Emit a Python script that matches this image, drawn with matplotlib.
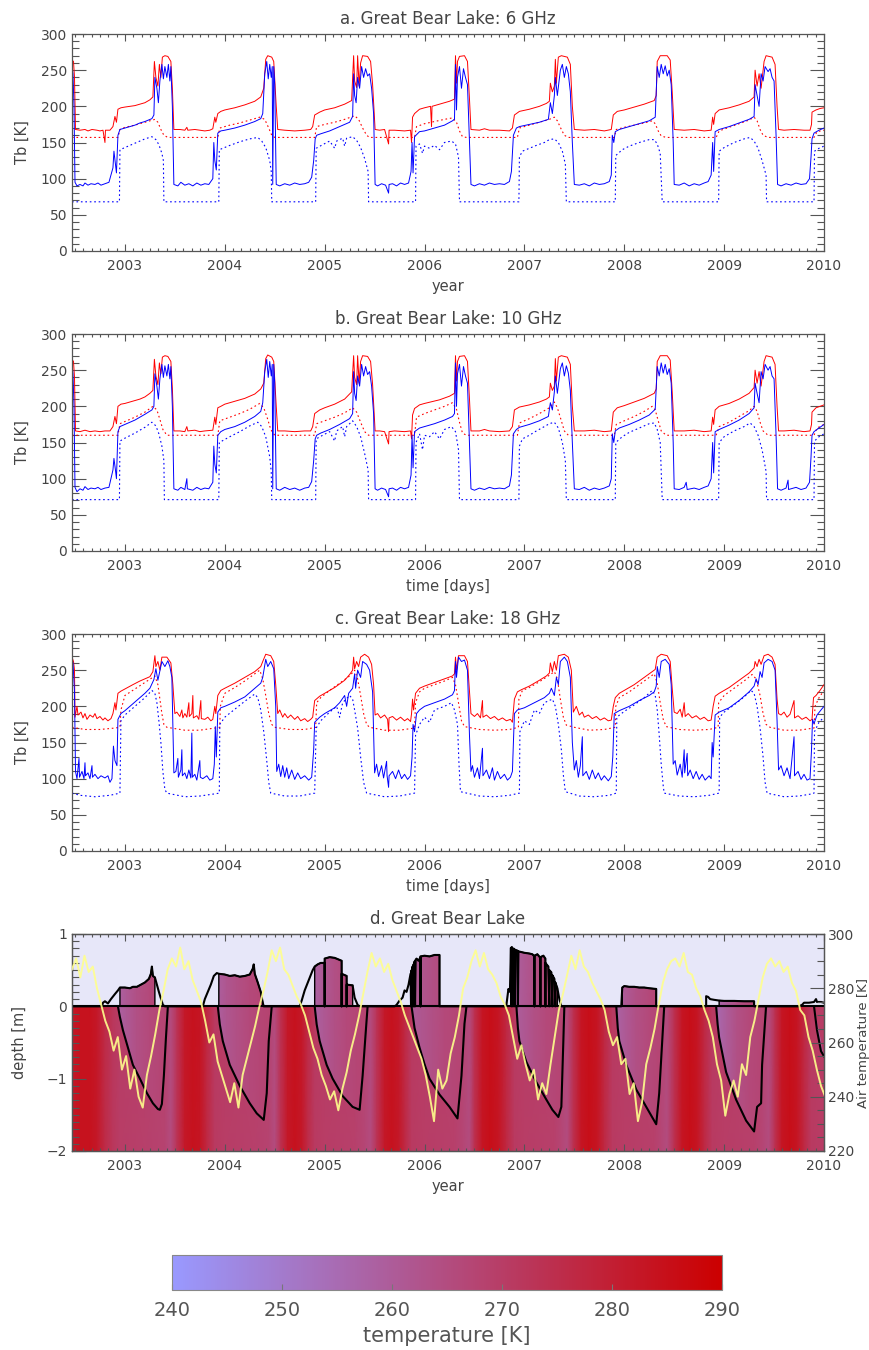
import numpy as np
import matplotlib
matplotlib.use("Agg")
import matplotlib.pyplot as plt
import matplotlib.cm as cm
from matplotlib.colors import LinearSegmentedColormap, Normalize
from matplotlib.path import Path
from matplotlib.patches import PathPatch
from matplotlib.ticker import MultipleLocator, FormatStrFormatter

plt.rcParams['font.family'] = ['DejaVu Sans']

# ------------------------------- 6 GHz (a) -------------------------------- #
a_v = [(2002.47, 264), (2002.485, 262), (2002.495, 240), (2002.505, 168), (2002.55, 167), (2002.6, 168), (2002.63, 166),
       (2002.67, 168), (2002.72, 167), (2002.75, 166), (2002.78, 167), (2002.8, 150), (2002.805, 167), (2002.85, 167),
       (2002.88, 172), (2002.9, 186), (2002.915, 178), (2002.93, 196), (2002.96, 198), (2003.0, 199), (2003.05, 200),
       (2003.1, 201), (2003.15, 203), (2003.2, 205), (2003.25, 209), (2003.28, 213), (2003.295, 262), (2003.31, 240),
       (2003.33, 228), (2003.345, 258), (2003.36, 240), (2003.375, 268), (2003.4, 270), (2003.43, 269), (2003.46, 262),
       (2003.475, 225), (2003.49, 168),
       (2003.55, 168), (2003.6, 167), (2003.62, 171), (2003.63, 167), (2003.7, 168), (2003.75, 167), (2003.8, 166),
       (2003.85, 167), (2003.88, 169), (2003.9, 185), (2003.91, 178), (2003.93, 190), (2003.96, 193), (2004.0, 195),
       (2004.1, 198), (2004.2, 202), (2004.3, 207), (2004.36, 213), (2004.39, 225), (2004.41, 265), (2004.43, 270),
       (2004.47, 268), (2004.49, 262), (2004.515, 200), (2004.53, 168),
       (2004.6, 167), (2004.7, 166), (2004.8, 167), (2004.86, 168), (2004.88, 172), (2004.9, 188), (2004.95, 192),
       (2005.0, 195), (2005.1, 198), (2005.2, 203), (2005.27, 208), (2005.29, 270), (2005.3, 235), (2005.32, 226),
       (2005.33, 270), (2005.345, 228), (2005.36, 260), (2005.38, 270), (2005.43, 269), (2005.46, 262), (2005.48, 230),
       (2005.505, 168),
       (2005.55, 167), (2005.6, 168), (2005.64, 148), (2005.645, 167), (2005.7, 167), (2005.8, 166), (2005.86, 167),
       (2005.87, 150), (2005.88, 185), (2005.9, 190), (2005.95, 196), (2006.0, 198), (2006.06, 200), (2006.07, 172),
       (2006.075, 200), (2006.15, 203), (2006.25, 207), (2006.3, 210), (2006.31, 270), (2006.32, 232), (2006.33, 262),
       (2006.35, 269), (2006.4, 270), (2006.43, 262), (2006.45, 210), (2006.465, 168),
       (2006.55, 167), (2006.6, 169), (2006.65, 167), (2006.75, 167), (2006.85, 166), (2006.88, 170), (2006.9, 188),
       (2006.95, 193), (2007.05, 196), (2007.15, 200), (2007.22, 204), (2007.25, 207), (2007.26, 232), (2007.28, 220),
       (2007.3, 228), (2007.31, 265), (2007.32, 232), (2007.34, 268), (2007.37, 270), (2007.43, 268), (2007.46, 258),
       (2007.48, 200), (2007.5, 168),
       (2007.6, 167), (2007.7, 168), (2007.8, 166), (2007.87, 168), (2007.89, 188), (2007.93, 193), (2008.0, 195),
       (2008.1, 199), (2008.2, 203), (2008.3, 208), (2008.32, 215), (2008.33, 262), (2008.36, 270), (2008.43, 270),
       (2008.46, 264), (2008.48, 220), (2008.5, 168),
       (2008.6, 167), (2008.7, 168), (2008.8, 166), (2008.87, 167), (2008.885, 185), (2008.895, 175), (2008.91, 190),
       (2008.95, 195), (2009.05, 198), (2009.15, 202), (2009.25, 207), (2009.3, 213), (2009.31, 250), (2009.33, 228),
       (2009.35, 245), (2009.37, 225), (2009.4, 262), (2009.42, 270), (2009.48, 268), (2009.51, 258), (2009.53, 200),
       (2009.545, 168),
       (2009.6, 167), (2009.7, 168), (2009.8, 167), (2009.86, 167), (2009.875, 175), (2009.88, 192), (2009.92, 195),
       (2009.96, 197), (2010.0, 198)]

a_h = [(2002.47, 255), (2002.48, 245), (2002.49, 200), (2002.5, 95), (2002.52, 90), (2002.55, 92), (2002.58, 90),
       (2002.6, 94), (2002.63, 91), (2002.66, 93), (2002.7, 92), (2002.73, 94), (2002.76, 91), (2002.8, 93),
       (2002.84, 95), (2002.86, 105), (2002.88, 115), (2002.89, 138), (2002.905, 120), (2002.915, 108), (2002.93, 160),
       (2002.95, 168), (2003.0, 170), (2003.05, 172), (2003.1, 174), (2003.15, 177), (2003.2, 179), (2003.27, 183),
       (2003.29, 188), (2003.3, 240), (2003.32, 225), (2003.335, 205), (2003.35, 235), (2003.37, 258), (2003.385, 238),
       (2003.4, 255), (2003.42, 240), (2003.435, 258), (2003.45, 235), (2003.46, 255), (2003.475, 200), (2003.49, 92),
       (2003.53, 90), (2003.56, 95), (2003.6, 91), (2003.64, 93), (2003.68, 90), (2003.72, 94), (2003.76, 91),
       (2003.8, 93), (2003.84, 92), (2003.88, 100), (2003.89, 150), (2003.9, 125), (2003.915, 112), (2003.93, 163),
       (2003.96, 166), (2004.0, 167), (2004.1, 170), (2004.2, 174), (2004.3, 179), (2004.36, 183), (2004.38, 190),
       (2004.4, 245), (2004.42, 262), (2004.435, 238), (2004.45, 258), (2004.465, 240), (2004.475, 255), (2004.48, 92),
       (2004.49, 255), (2004.5, 230), (2004.515, 92),
       (2004.55, 90), (2004.6, 93), (2004.65, 91), (2004.7, 94), (2004.75, 92), (2004.8, 93), (2004.84, 95),
       (2004.87, 102), (2004.89, 125), (2004.905, 155), (2004.92, 160), (2004.96, 162), (2005.05, 166), (2005.15, 172),
       (2005.25, 178), (2005.28, 186), (2005.29, 245), (2005.3, 215), (2005.315, 205), (2005.33, 240), (2005.35, 225),
       (2005.37, 255), (2005.39, 240), (2005.41, 252), (2005.43, 242), (2005.45, 245), (2005.47, 225), (2005.49, 190),
       (2005.505, 92),
       (2005.53, 90), (2005.57, 93), (2005.61, 91), (2005.64, 80), (2005.645, 92), (2005.68, 93), (2005.72, 90),
       (2005.76, 94), (2005.8, 92), (2005.84, 94), (2005.865, 110), (2005.875, 150), (2005.885, 108), (2005.9, 158),
       (2005.95, 165), (2006.0, 166), (2006.1, 170), (2006.2, 174), (2006.28, 180), (2006.3, 182), (2006.31, 258),
       (2006.32, 195), (2006.33, 240), (2006.35, 255), (2006.37, 225), (2006.39, 252), (2006.41, 240), (2006.43, 230),
       (2006.45, 150), (2006.465, 92),
       (2006.5, 90), (2006.55, 93), (2006.6, 91), (2006.65, 94), (2006.7, 92), (2006.75, 93), (2006.8, 92),
       (2006.85, 96), (2006.87, 110), (2006.89, 160), (2006.92, 170), (2006.95, 172), (2007.05, 175), (2007.15, 178),
       (2007.24, 182), (2007.26, 205), (2007.28, 190), (2007.3, 215), (2007.31, 240), (2007.33, 215), (2007.36, 250),
       (2007.38, 258), (2007.4, 240), (2007.42, 255), (2007.44, 245), (2007.46, 220), (2007.48, 150), (2007.5, 92),
       (2007.55, 91), (2007.6, 93), (2007.65, 90), (2007.7, 94), (2007.75, 92), (2007.8, 93), (2007.85, 96),
       (2007.87, 105), (2007.88, 160), (2007.895, 150), (2007.91, 165), (2007.95, 168), (2008.05, 172), (2008.15, 176),
       (2008.25, 180), (2008.31, 185), (2008.33, 255), (2008.35, 240), (2008.37, 258), (2008.39, 245), (2008.41, 256),
       (2008.43, 242), (2008.45, 250), (2008.47, 230), (2008.49, 150), (2008.5, 92),
       (2008.55, 91), (2008.6, 94), (2008.65, 90), (2008.7, 93), (2008.75, 91), (2008.8, 94), (2008.84, 96),
       (2008.87, 105), (2008.885, 150), (2008.895, 110), (2008.91, 165), (2008.95, 168), (2009.05, 172), (2009.15, 177),
       (2009.25, 182), (2009.3, 186), (2009.31, 230), (2009.33, 215), (2009.35, 200), (2009.37, 245), (2009.39, 235),
       (2009.41, 255), (2009.44, 248), (2009.46, 252), (2009.48, 240), (2009.5, 235), (2009.52, 160), (2009.535, 92),
       (2009.57, 90), (2009.62, 93), (2009.67, 91), (2009.72, 94), (2009.77, 92), (2009.82, 93), (2009.855, 100),
       (2009.87, 130), (2009.88, 155), (2009.9, 163), (2009.95, 167), (2010.0, 170)]

a_vm = [(2002.47, 157), (2002.93, 157), (2002.95, 168), (2003.0, 171), (2003.1, 174), (2003.2, 178), (2003.3, 182),
        (2003.33, 178), (2003.36, 168), (2003.39, 160), (2003.43, 157),
        (2003.93, 157), (2003.95, 170), (2004.05, 174), (2004.15, 177), (2004.25, 181), (2004.35, 185), (2004.4, 182),
        (2004.44, 170), (2004.47, 160), (2004.5, 157),
        (2004.9, 157), (2004.92, 172), (2005.0, 175), (2005.1, 178), (2005.2, 182), (2005.3, 187), (2005.34, 182),
        (2005.38, 170), (2005.42, 160), (2005.45, 157),
        (2005.9, 157), (2005.92, 172), (2006.0, 176), (2006.1, 179), (2006.2, 182), (2006.28, 184), (2006.32, 178),
        (2006.35, 166), (2006.38, 158), (2006.42, 157),
        (2006.93, 157), (2006.95, 170), (2007.05, 174), (2007.15, 178), (2007.25, 182), (2007.3, 185), (2007.33, 180),
        (2007.37, 168), (2007.4, 160), (2007.44, 157),
        (2007.9, 157), (2007.92, 168), (2008.0, 171), (2008.1, 174), (2008.2, 177), (2008.28, 180), (2008.31, 176),
        (2008.34, 166), (2008.37, 159), (2008.42, 157),
        (2008.92, 157), (2008.95, 166), (2009.05, 171), (2009.15, 176), (2009.25, 181), (2009.3, 185), (2009.33, 180),
        (2009.36, 168), (2009.39, 160), (2009.44, 157),
        (2009.9, 157), (2009.93, 165), (2010.0, 167)]

a_hm = [(2002.47, 68), (2002.945, 68), (2002.95, 140), (2003.0, 143), (2003.1, 149), (2003.2, 155), (2003.27, 158),
        (2003.31, 154), (2003.34, 147), (2003.37, 135), (2003.385, 125), (2003.39, 68),
        (2003.94, 68), (2003.945, 140), (2004.05, 146), (2004.15, 151), (2004.25, 155), (2004.33, 157), (2004.37, 152),
        (2004.41, 143), (2004.45, 125), (2004.465, 110), (2004.47, 68),
        (2004.91, 68), (2004.915, 142), (2004.98, 147), (2005.05, 152), (2005.1, 142), (2005.12, 152), (2005.18, 156),
        (2005.2, 145), (2005.22, 156), (2005.28, 158), (2005.32, 153), (2005.36, 143), (2005.4, 128), (2005.435, 110),
        (2005.44, 68),
        (2005.91, 68), (2005.915, 145), (2005.95, 148), (2005.98, 135), (2006.0, 145), (2006.05, 142), (2006.1, 146),
        (2006.15, 140), (2006.2, 150), (2006.27, 152), (2006.31, 148), (2006.34, 130), (2006.35, 68),
        (2006.945, 68), (2006.95, 130), (2006.98, 138), (2007.05, 142), (2007.12, 146), (2007.2, 150), (2007.25, 154),
        (2007.3, 155), (2007.34, 150), (2007.38, 138), (2007.41, 120), (2007.42, 68),
        (2007.91, 68), (2007.915, 132), (2007.98, 140), (2008.05, 145), (2008.15, 150), (2008.25, 154), (2008.3, 154),
        (2008.33, 148), (2008.36, 135), (2008.38, 68),
        (2008.945, 68), (2008.95, 138), (2009.0, 143), (2009.1, 150), (2009.2, 155), (2009.26, 157), (2009.3, 152),
        (2009.34, 142), (2009.38, 125), (2009.42, 105), (2009.425, 68),
        (2009.9, 68), (2009.905, 138), (2009.95, 142), (2010.0, 145)]

# ------------------------------- 10 GHz (b) ------------------------------- #
b_v = [(2002.47, 265), (2002.485, 262), (2002.495, 240), (2002.505, 166), (2002.55, 165), (2002.6, 167), (2002.65, 165),
       (2002.7, 166), (2002.75, 165), (2002.8, 166), (2002.85, 166), (2002.88, 172), (2002.9, 186), (2002.915, 176),
       (2002.93, 200), (2002.96, 203), (2003.0, 204), (2003.05, 206), (2003.1, 208), (2003.15, 210), (2003.2, 213),
       (2003.25, 218), (2003.28, 222), (2003.295, 265), (2003.31, 242), (2003.33, 230), (2003.345, 260), (2003.36, 245),
       (2003.375, 268), (2003.4, 270), (2003.43, 269), (2003.46, 262), (2003.475, 225), (2003.49, 166),
       (2003.55, 166), (2003.6, 165), (2003.62, 172), (2003.63, 166), (2003.7, 167), (2003.75, 165), (2003.8, 166),
       (2003.88, 167), (2003.9, 185), (2003.91, 175), (2003.93, 198), (2003.96, 200), (2004.0, 203), (2004.1, 207),
       (2004.2, 211), (2004.3, 217), (2004.36, 224), (2004.39, 232), (2004.41, 266), (2004.43, 271), (2004.47, 268),
       (2004.49, 262), (2004.515, 200), (2004.53, 166),
       (2004.6, 166), (2004.7, 165), (2004.8, 166), (2004.86, 166), (2004.88, 172), (2004.9, 190), (2004.95, 195),
       (2005.0, 198), (2005.1, 203), (2005.2, 210), (2005.27, 220), (2005.29, 270), (2005.3, 240), (2005.32, 230),
       (2005.33, 270), (2005.345, 232), (2005.36, 262), (2005.38, 270), (2005.43, 269), (2005.46, 262), (2005.48, 230),
       (2005.505, 166),
       (2005.55, 166), (2005.6, 165), (2005.64, 148), (2005.645, 165), (2005.7, 166), (2005.8, 165), (2005.86, 166),
       (2005.87, 155), (2005.88, 188), (2005.9, 197), (2005.95, 202), (2006.0, 204), (2006.06, 206), (2006.15, 209),
       (2006.25, 214), (2006.3, 218), (2006.31, 270), (2006.32, 235), (2006.33, 262), (2006.35, 269), (2006.4, 270),
       (2006.43, 262), (2006.45, 210), (2006.465, 166),
       (2006.55, 166), (2006.6, 168), (2006.65, 166), (2006.75, 165), (2006.85, 166), (2006.88, 172), (2006.9, 195),
       (2006.95, 199), (2007.05, 202), (2007.15, 206), (2007.22, 210), (2007.25, 213), (2007.26, 232), (2007.28, 222),
       (2007.3, 228), (2007.31, 266), (2007.32, 235), (2007.34, 268), (2007.37, 270), (2007.43, 268), (2007.46, 258),
       (2007.48, 200), (2007.5, 166),
       (2007.6, 166), (2007.7, 167), (2007.8, 165), (2007.87, 166), (2007.89, 192), (2007.93, 198), (2008.0, 201),
       (2008.1, 206), (2008.2, 211), (2008.3, 218), (2008.32, 224), (2008.33, 262), (2008.36, 270), (2008.43, 270),
       (2008.46, 264), (2008.48, 220), (2008.5, 166),
       (2008.6, 166), (2008.7, 167), (2008.8, 165), (2008.87, 166), (2008.885, 185), (2008.895, 175), (2008.91, 195),
       (2008.95, 200), (2009.05, 204), (2009.15, 210), (2009.25, 218), (2009.3, 226), (2009.31, 250), (2009.33, 232),
       (2009.35, 248), (2009.37, 228), (2009.4, 262), (2009.42, 270), (2009.48, 268), (2009.51, 258), (2009.53, 200),
       (2009.545, 166),
       (2009.6, 166), (2009.7, 167), (2009.8, 165), (2009.86, 166), (2009.875, 175), (2009.88, 192), (2009.92, 198),
       (2009.96, 200), (2010.0, 202)]

b_h = [(2002.47, 258), (2002.48, 245), (2002.49, 200), (2002.5, 88), (2002.52, 82), (2002.55, 86), (2002.58, 84),
       (2002.6, 89), (2002.63, 85), (2002.66, 87), (2002.7, 86), (2002.73, 88), (2002.76, 85), (2002.8, 87),
       (2002.84, 88), (2002.86, 100), (2002.88, 112), (2002.89, 128), (2002.905, 112), (2002.915, 100), (2002.93, 165),
       (2002.95, 172), (2003.0, 175), (2003.05, 178), (2003.1, 181), (2003.15, 185), (2003.2, 189), (2003.27, 195),
       (2003.29, 200), (2003.3, 245), (2003.32, 228), (2003.335, 210), (2003.35, 238), (2003.37, 258), (2003.385, 240),
       (2003.4, 256), (2003.42, 242), (2003.435, 258), (2003.45, 238), (2003.46, 255), (2003.475, 200), (2003.49, 86),
       (2003.53, 84), (2003.56, 88), (2003.6, 85), (2003.62, 100), (2003.625, 86), (2003.68, 84), (2003.72, 88),
       (2003.76, 85), (2003.8, 87), (2003.84, 86), (2003.88, 95), (2003.89, 145), (2003.9, 120), (2003.915, 108),
       (2003.93, 160), (2003.96, 165), (2004.0, 168), (2004.1, 172), (2004.2, 178), (2004.3, 186), (2004.36, 193),
       (2004.38, 205), (2004.4, 248), (2004.42, 265), (2004.435, 240), (2004.45, 262), (2004.465, 242), (2004.475, 258),
       (2004.48, 86), (2004.49, 258), (2004.5, 232), (2004.515, 86),
       (2004.55, 84), (2004.6, 88), (2004.65, 85), (2004.7, 87), (2004.75, 84), (2004.8, 87), (2004.84, 88),
       (2004.87, 96), (2004.89, 125), (2004.905, 155), (2004.92, 160), (2004.96, 163), (2005.05, 168), (2005.15, 175),
       (2005.25, 183), (2005.28, 190), (2005.29, 248), (2005.3, 218), (2005.315, 208), (2005.33, 242), (2005.35, 228),
       (2005.37, 258), (2005.39, 242), (2005.41, 255), (2005.43, 244), (2005.45, 248), (2005.47, 228), (2005.49, 190),
       (2005.505, 86),
       (2005.53, 84), (2005.57, 87), (2005.61, 85), (2005.64, 75), (2005.645, 86), (2005.68, 87), (2005.72, 84),
       (2005.76, 88), (2005.8, 86), (2005.84, 88), (2005.865, 105), (2005.875, 160), (2005.885, 115), (2005.9, 165),
       (2005.95, 170), (2006.0, 172), (2006.1, 176), (2006.2, 181), (2006.28, 186), (2006.3, 190), (2006.31, 260),
       (2006.32, 200), (2006.33, 245), (2006.35, 258), (2006.37, 228), (2006.39, 255), (2006.41, 242), (2006.43, 232),
       (2006.45, 150), (2006.465, 86),
       (2006.5, 84), (2006.55, 87), (2006.6, 85), (2006.65, 88), (2006.7, 86), (2006.75, 87), (2006.8, 86),
       (2006.85, 90), (2006.87, 105), (2006.89, 162), (2006.92, 168), (2006.95, 171), (2007.05, 175), (2007.15, 180),
       (2007.24, 186), (2007.26, 205), (2007.28, 195), (2007.3, 220), (2007.31, 242), (2007.33, 218), (2007.36, 252),
       (2007.38, 260), (2007.4, 242), (2007.42, 256), (2007.44, 246), (2007.46, 222), (2007.48, 150), (2007.5, 86),
       (2007.55, 85), (2007.6, 88), (2007.65, 84), (2007.7, 87), (2007.75, 85), (2007.8, 87), (2007.85, 90),
       (2007.87, 100), (2007.88, 162), (2007.895, 150), (2007.91, 166), (2007.95, 170), (2008.05, 175), (2008.15, 181),
       (2008.25, 188), (2008.31, 196), (2008.33, 255), (2008.35, 242), (2008.37, 260), (2008.39, 246), (2008.41, 258),
       (2008.43, 244), (2008.45, 252), (2008.47, 232), (2008.49, 150), (2008.5, 86),
       (2008.55, 85), (2008.6, 88), (2008.62, 95), (2008.63, 85), (2008.7, 87), (2008.75, 85), (2008.8, 88),
       (2008.84, 90), (2008.87, 100), (2008.885, 150), (2008.895, 108), (2008.91, 165), (2008.95, 168), (2009.05, 174),
       (2009.15, 181), (2009.25, 190), (2009.3, 198), (2009.31, 232), (2009.33, 218), (2009.35, 205), (2009.37, 248),
       (2009.39, 238), (2009.41, 258), (2009.44, 250), (2009.46, 255), (2009.48, 242), (2009.5, 238), (2009.52, 160),
       (2009.535, 86),
       (2009.57, 84), (2009.62, 87), (2009.64, 98), (2009.645, 85), (2009.72, 88), (2009.77, 85), (2009.82, 87),
       (2009.855, 95), (2009.87, 130), (2009.88, 160), (2009.9, 165), (2009.95, 170), (2010.0, 175)]

b_vm = [(2002.47, 160), (2002.93, 160), (2002.95, 176), (2003.0, 179), (2003.1, 185), (2003.2, 192), (2003.28, 200),
        (2003.32, 195), (2003.35, 182), (2003.38, 168), (2003.42, 160),
        (2003.93, 160), (2003.95, 180), (2004.05, 185), (2004.15, 190), (2004.25, 196), (2004.35, 204), (2004.39, 198),
        (2004.43, 182), (2004.46, 168), (2004.5, 160),
        (2004.9, 160), (2004.92, 176), (2005.0, 180), (2005.1, 185), (2005.2, 191), (2005.28, 198), (2005.32, 192),
        (2005.36, 178), (2005.4, 165), (2005.44, 160),
        (2005.9, 160), (2005.92, 185), (2006.0, 190), (2006.1, 195), (2006.2, 200), (2006.28, 205), (2006.32, 196),
        (2006.35, 178), (2006.38, 163), (2006.42, 160),
        (2006.93, 160), (2006.95, 177), (2007.05, 183), (2007.15, 190), (2007.25, 198), (2007.3, 206), (2007.33, 198),
        (2007.37, 180), (2007.4, 166), (2007.44, 160),
        (2007.9, 160), (2007.92, 175), (2008.0, 180), (2008.1, 186), (2008.2, 193), (2008.28, 200), (2008.31, 195),
        (2008.34, 180), (2008.37, 166), (2008.42, 160),
        (2008.92, 160), (2008.95, 172), (2009.05, 178), (2009.15, 186), (2009.25, 194), (2009.3, 200), (2009.33, 193),
        (2009.36, 178), (2009.39, 166), (2009.44, 160),
        (2009.9, 160), (2009.93, 170), (2010.0, 175)]

b_hm = [(2002.47, 71), (2002.945, 71), (2002.95, 152), (2003.0, 156), (2003.1, 163), (2003.2, 171), (2003.27, 178),
        (2003.31, 173), (2003.34, 162), (2003.37, 145), (2003.39, 125), (2003.395, 71),
        (2003.94, 71), (2003.945, 150), (2004.05, 158), (2004.15, 165), (2004.25, 173), (2004.33, 178), (2004.37, 172),
        (2004.41, 158), (2004.45, 130), (2004.465, 110), (2004.47, 71),
        (2004.91, 71), (2004.915, 155), (2004.98, 160), (2005.05, 165), (2005.1, 152), (2005.12, 166), (2005.18, 172),
        (2005.2, 158), (2005.22, 172), (2005.28, 180), (2005.32, 172), (2005.36, 158), (2005.4, 135), (2005.435, 112),
        (2005.44, 71),
        (2005.91, 71), (2005.915, 150), (2005.95, 162), (2005.98, 140), (2006.0, 160), (2006.05, 158), (2006.1, 165),
        (2006.15, 155), (2006.2, 168), (2006.27, 172), (2006.31, 165), (2006.34, 140), (2006.35, 71),
        (2006.945, 71), (2006.95, 145), (2006.98, 155), (2007.05, 160), (2007.12, 166), (2007.2, 172), (2007.25, 176),
        (2007.3, 178), (2007.34, 170), (2007.38, 150), (2007.41, 125), (2007.42, 71),
        (2007.91, 71), (2007.915, 150), (2007.98, 158), (2008.05, 164), (2008.15, 170), (2008.25, 176), (2008.3, 177),
        (2008.33, 168), (2008.36, 150), (2008.38, 71),
        (2008.945, 71), (2008.95, 150), (2009.0, 158), (2009.1, 166), (2009.2, 172), (2009.26, 177), (2009.3, 172),
        (2009.34, 160), (2009.38, 140), (2009.42, 110), (2009.425, 71),
        (2009.9, 71), (2009.905, 152), (2009.95, 158), (2010.0, 162)]

# ------------------------------- 18 GHz (c) ------------------------------- #
c_v = [(2002.47, 268), (2002.485, 262), (2002.495, 250), (2002.5, 185), (2002.52, 200), (2002.53, 188), (2002.56, 192),
       (2002.58, 184), (2002.6, 190), (2002.62, 182), (2002.65, 188), (2002.68, 185), (2002.7, 190), (2002.72, 183),
       (2002.75, 186), (2002.78, 181), (2002.8, 184), (2002.83, 180), (2002.86, 183), (2002.88, 190), (2002.9, 205),
       (2002.91, 195), (2002.93, 218), (2002.96, 221), (2003.0, 224), (2003.08, 230), (2003.15, 235), (2003.25, 241),
       (2003.28, 248), (2003.3, 270), (2003.31, 255), (2003.33, 262), (2003.35, 250), (2003.37, 268), (2003.42, 268),
       (2003.46, 260), (2003.48, 230), (2003.5, 190),
       (2003.52, 192), (2003.55, 186), (2003.57, 195), (2003.58, 184), (2003.6, 190), (2003.62, 185), (2003.64, 205),
       (2003.645, 186), (2003.67, 190), (2003.68, 215), (2003.685, 184), (2003.72, 187), (2003.74, 182), (2003.76, 208),
       (2003.765, 183), (2003.8, 182), (2003.83, 185), (2003.86, 180), (2003.88, 182), (2003.9, 200), (2003.91, 190),
       (2003.93, 215), (2003.96, 222), (2004.0, 225), (2004.1, 232), (2004.2, 240), (2004.3, 248), (2004.36, 255),
       (2004.38, 262), (2004.41, 272), (2004.46, 270), (2004.49, 262), (2004.51, 230), (2004.53, 190),
       (2004.55, 195), (2004.58, 185), (2004.6, 190), (2004.63, 184), (2004.66, 188), (2004.7, 182), (2004.73, 186),
       (2004.76, 180), (2004.8, 183), (2004.83, 179), (2004.86, 182), (2004.88, 185), (2004.9, 208), (2004.95, 214),
       (2005.0, 218), (2005.1, 226), (2005.2, 236), (2005.25, 244), (2005.28, 250), (2005.29, 268), (2005.3, 252),
       (2005.32, 262), (2005.34, 255), (2005.36, 268), (2005.4, 272), (2005.44, 268), (2005.47, 258), (2005.49, 230),
       (2005.505, 188),
       (2005.53, 190), (2005.56, 184), (2005.6, 188), (2005.63, 182), (2005.64, 165), (2005.645, 184), (2005.68, 186),
       (2005.72, 181), (2005.76, 185), (2005.8, 180), (2005.83, 183), (2005.86, 179), (2005.87, 190), (2005.88, 210),
       (2005.89, 195), (2005.91, 218), (2005.95, 225), (2006.0, 228), (2006.1, 233), (2006.2, 238), (2006.28, 242),
       (2006.3, 245), (2006.31, 268), (2006.32, 250), (2006.34, 270), (2006.4, 270), (2006.43, 262), (2006.45, 220),
       (2006.465, 190),
       (2006.5, 186), (2006.53, 190), (2006.56, 184), (2006.58, 208), (2006.585, 185), (2006.62, 188), (2006.66, 183),
       (2006.7, 186), (2006.74, 181), (2006.78, 184), (2006.82, 180), (2006.86, 182), (2006.88, 178), (2006.9, 210),
       (2006.93, 220), (2006.97, 223), (2007.05, 228), (2007.15, 236), (2007.22, 242), (2007.25, 246), (2007.26, 260),
       (2007.28, 248), (2007.3, 262), (2007.32, 250), (2007.34, 270), (2007.4, 272), (2007.44, 268), (2007.47, 250),
       (2007.49, 192),
       (2007.52, 200), (2007.55, 188), (2007.58, 192), (2007.6, 185), (2007.64, 188), (2007.68, 183), (2007.72, 186),
       (2007.76, 181), (2007.8, 184), (2007.84, 180), (2007.87, 181), (2007.89, 200), (2007.91, 212), (2007.95, 218),
       (2008.0, 222), (2008.1, 230), (2008.2, 240), (2008.28, 248), (2008.31, 251), (2008.33, 268), (2008.37, 272),
       (2008.43, 270), (2008.46, 262), (2008.48, 225), (2008.5, 192),
       (2008.53, 190), (2008.56, 196), (2008.58, 185), (2008.6, 205), (2008.61, 186), (2008.64, 190), (2008.68, 184),
       (2008.72, 187), (2008.76, 182), (2008.8, 185), (2008.84, 180), (2008.87, 181), (2008.89, 200), (2008.91, 214),
       (2008.95, 218), (2009.05, 226), (2009.15, 236), (2009.25, 246), (2009.3, 253), (2009.31, 262), (2009.33, 255),
       (2009.35, 265), (2009.37, 258), (2009.4, 270), (2009.44, 272), (2009.48, 268), (2009.51, 258), (2009.53, 210),
       (2009.545, 190),
       (2009.57, 188), (2009.6, 192), (2009.63, 185), (2009.66, 189), (2009.7, 208), (2009.705, 184), (2009.74, 187),
       (2009.78, 182), (2009.82, 185), (2009.86, 180), (2009.88, 182), (2009.895, 212), (2009.92, 215), (2009.96, 222),
       (2010.0, 230)]

c_h = [(2002.47, 264), (2002.48, 260), (2002.495, 220), (2002.505, 110), (2002.52, 100), (2002.54, 128), (2002.545, 102),
       (2002.57, 110), (2002.59, 100), (2002.6, 122), (2002.605, 104), (2002.63, 108), (2002.65, 100), (2002.67, 118),
       (2002.675, 102), (2002.7, 106), (2002.73, 100), (2002.76, 104), (2002.8, 101), (2002.83, 104), (2002.85, 95),
       (2002.87, 100), (2002.885, 145), (2002.9, 125), (2002.92, 118), (2002.93, 182), (2002.96, 190), (2003.0, 194),
       (2003.05, 200), (2003.1, 206), (2003.15, 212), (2003.2, 218), (2003.25, 225), (2003.29, 237), (2003.31, 252),
       (2003.33, 236), (2003.37, 262), (2003.4, 255), (2003.43, 263), (2003.45, 255), (2003.47, 240), (2003.49, 108),
       (2003.51, 110), (2003.53, 128), (2003.535, 102), (2003.56, 112), (2003.57, 140), (2003.575, 104), (2003.6, 108),
       (2003.62, 100), (2003.64, 112), (2003.66, 101), (2003.67, 163), (2003.675, 102), (2003.7, 106), (2003.72, 98),
       (2003.75, 125), (2003.755, 102), (2003.78, 100), (2003.82, 104), (2003.85, 98), (2003.88, 100), (2003.895, 120),
       (2003.905, 172), (2003.915, 130), (2003.93, 192), (2003.96, 198), (2004.0, 200), (2004.1, 206), (2004.2, 213),
       (2004.3, 225), (2004.36, 232), (2004.38, 240), (2004.41, 265), (2004.43, 255), (2004.46, 262), (2004.49, 252),
       (2004.51, 200), (2004.52, 110),
       (2004.54, 120), (2004.56, 103), (2004.58, 118), (2004.6, 102), (2004.62, 115), (2004.64, 100), (2004.67, 112),
       (2004.7, 99), (2004.73, 108), (2004.76, 100), (2004.8, 104), (2004.84, 98), (2004.87, 102), (2004.89, 140),
       (2004.9, 178), (2004.95, 185), (2005.0, 190), (2005.1, 198), (2005.15, 205), (2005.2, 215), (2005.22, 200),
       (2005.24, 218), (2005.28, 225), (2005.3, 245), (2005.31, 225), (2005.33, 250), (2005.36, 240), (2005.38, 262),
       (2005.42, 258), (2005.45, 250), (2005.48, 220), (2005.5, 108),
       (2005.52, 120), (2005.54, 103), (2005.57, 118), (2005.59, 101), (2005.62, 124), (2005.625, 104), (2005.64, 88),
       (2005.645, 104), (2005.68, 110), (2005.71, 100), (2005.74, 112), (2005.77, 100), (2005.8, 106), (2005.83, 99),
       (2005.86, 104), (2005.875, 130), (2005.885, 175), (2005.9, 165), (2005.92, 190), (2005.95, 195), (2006.0, 200),
       (2006.1, 205), (2006.2, 210), (2006.28, 216), (2006.3, 222), (2006.31, 262), (2006.32, 240), (2006.34, 268),
       (2006.37, 262), (2006.4, 264), (2006.43, 250), (2006.45, 160), (2006.465, 110),
       (2006.48, 118), (2006.5, 102), (2006.53, 115), (2006.55, 100), (2006.58, 142), (2006.585, 104), (2006.62, 112),
       (2006.65, 100), (2006.68, 115), (2006.7, 98), (2006.73, 110), (2006.76, 100), (2006.8, 106), (2006.83, 98),
       (2006.86, 102), (2006.88, 110), (2006.9, 190), (2006.93, 195), (2007.0, 198), (2007.1, 205), (2007.2, 212),
       (2007.25, 218), (2007.27, 225), (2007.3, 215), (2007.32, 240), (2007.34, 230), (2007.36, 262), (2007.4, 268),
       (2007.43, 262), (2007.46, 240), (2007.48, 150), (2007.5, 112),
       (2007.52, 125), (2007.54, 102), (2007.56, 118), (2007.58, 158), (2007.585, 104), (2007.62, 110), (2007.65, 99),
       (2007.68, 112), (2007.71, 100), (2007.74, 108), (2007.77, 98), (2007.8, 104), (2007.84, 97), (2007.87, 103),
       (2007.885, 130), (2007.9, 190), (2007.95, 194), (2008.05, 200), (2008.15, 208), (2008.25, 215), (2008.3, 220),
       (2008.32, 228), (2008.33, 255), (2008.35, 240), (2008.37, 262), (2008.41, 265), (2008.45, 258), (2008.47, 230),
       (2008.49, 120),
       (2008.51, 125), (2008.53, 105), (2008.56, 120), (2008.58, 102), (2008.6, 140), (2008.605, 108), (2008.63, 135),
       (2008.635, 104), (2008.66, 112), (2008.69, 100), (2008.72, 110), (2008.75, 99), (2008.78, 106), (2008.81, 98),
       (2008.85, 104), (2008.87, 100), (2008.88, 150), (2008.89, 130), (2008.91, 188), (2008.95, 192), (2009.05, 198),
       (2009.15, 208), (2009.25, 220), (2009.3, 228), (2009.32, 238), (2009.34, 230), (2009.36, 248), (2009.38, 240),
       (2009.4, 260), (2009.44, 265), (2009.48, 262), (2009.51, 250), (2009.53, 180), (2009.545, 112),
       (2009.57, 118), (2009.6, 104), (2009.63, 115), (2009.66, 100), (2009.7, 158), (2009.705, 104), (2009.74, 110),
       (2009.77, 99), (2009.8, 106), (2009.83, 98), (2009.86, 100), (2009.875, 140), (2009.885, 182), (2009.9, 176),
       (2009.93, 188), (2009.97, 195), (2010.0, 200)]

c_vm = [(2002.47, 171), (2002.6, 168), (2002.75, 168), (2002.9, 170), (2002.95, 171), (2002.96, 195), (2003.0, 215),
        (2003.1, 224), (2003.2, 233), (2003.3, 242), (2003.33, 230), (2003.35, 210), (2003.37, 190), (2003.39, 175),
        (2003.42, 171), (2003.6, 167), (2003.75, 167), (2003.9, 170), (2003.95, 171),
        (2003.955, 200), (2004.0, 218), (2004.1, 226), (2004.2, 235), (2004.3, 245), (2004.35, 250), (2004.38, 238),
        (2004.41, 215), (2004.44, 190), (2004.47, 175), (2004.5, 171), (2004.65, 168), (2004.8, 168), (2004.91, 171),
        (2004.92, 205), (2004.96, 212), (2005.05, 222), (2005.15, 232), (2005.25, 242), (2005.3, 250), (2005.33, 238),
        (2005.36, 215), (2005.39, 190), (2005.42, 175), (2005.45, 171), (2005.6, 167), (2005.75, 167), (2005.9, 170),
        (2005.91, 205), (2005.95, 220), (2006.0, 225), (2006.1, 230), (2006.2, 235), (2006.28, 240), (2006.31, 230),
        (2006.34, 205), (2006.37, 180), (2006.4, 172), (2006.55, 168), (2006.7, 167), (2006.85, 168), (2006.94, 171),
        (2006.945, 210), (2006.98, 222), (2007.05, 226), (2007.15, 234), (2007.25, 243), (2007.3, 248), (2007.33, 238),
        (2007.36, 210), (2007.39, 185), (2007.42, 174), (2007.5, 171), (2007.65, 167), (2007.8, 168), (2007.91, 171),
        (2007.915, 200), (2007.95, 212), (2008.05, 220), (2008.15, 230), (2008.25, 240), (2008.3, 245), (2008.33, 232),
        (2008.36, 205), (2008.39, 182), (2008.42, 172), (2008.55, 168), (2008.7, 167), (2008.85, 168), (2008.94, 171),
        (2008.945, 205), (2009.0, 215), (2009.1, 225), (2009.2, 235), (2009.28, 244), (2009.32, 238), (2009.36, 215),
        (2009.39, 190), (2009.42, 175), (2009.46, 171), (2009.6, 167), (2009.75, 167), (2009.9, 170),
        (2009.91, 200), (2009.95, 212), (2010.0, 222)]

c_hm = [(2002.47, 80), (2002.55, 77), (2002.7, 75), (2002.85, 77), (2002.95, 80), (2002.96, 180), (2003.0, 188),
        (2003.1, 200), (2003.2, 212), (2003.27, 222), (2003.3, 218), (2003.32, 205), (2003.34, 180), (2003.36, 150),
        (2003.38, 110), (2003.4, 85), (2003.42, 80),
        (2003.6, 75), (2003.75, 76), (2003.9, 79), (2003.945, 80), (2003.95, 175), (2004.0, 185), (2004.1, 196),
        (2004.2, 207), (2004.3, 217), (2004.33, 212), (2004.36, 195), (2004.39, 165), (2004.42, 125), (2004.44, 95),
        (2004.46, 80),
        (2004.6, 76), (2004.75, 76), (2004.9, 80), (2004.915, 170), (2004.96, 180), (2005.05, 192), (2005.12, 200),
        (2005.15, 185), (2005.18, 205), (2005.25, 215), (2005.28, 210), (2005.3, 195), (2005.33, 170), (2005.36, 130),
        (2005.39, 95), (2005.42, 80),
        (2005.6, 75), (2005.75, 76), (2005.9, 80), (2005.91, 160), (2005.95, 175), (2006.0, 185), (2006.05, 178),
        (2006.1, 195), (2006.2, 200), (2006.27, 205), (2006.3, 195), (2006.33, 175), (2006.345, 120), (2006.36, 82),
        (2006.55, 76), (2006.7, 75), (2006.85, 77), (2006.95, 80), (2006.955, 165), (2007.0, 180), (2007.05, 175),
        (2007.1, 195), (2007.15, 190), (2007.2, 205), (2007.28, 210), (2007.31, 200), (2007.34, 175), (2007.37, 140),
        (2007.39, 105), (2007.41, 82),
        (2007.55, 76), (2007.7, 75), (2007.85, 77), (2007.92, 80), (2007.925, 185), (2008.0, 193), (2008.1, 202),
        (2008.2, 212), (2008.28, 222), (2008.31, 215), (2008.33, 195), (2008.35, 160), (2008.37, 120), (2008.39, 90),
        (2008.4, 80),
        (2008.55, 76), (2008.7, 75), (2008.85, 77), (2008.95, 80), (2008.955, 185), (2009.0, 192), (2009.1, 202),
        (2009.2, 213), (2009.27, 222), (2009.3, 218), (2009.33, 200), (2009.36, 170), (2009.39, 130), (2009.41, 95),
        (2009.43, 80),
        (2009.6, 75), (2009.75, 76), (2009.88, 79), (2009.9, 80), (2009.905, 165), (2009.95, 178), (2010.0, 185)]

# -------------------------- lake ice / snow (d) --------------------------- #
snow = [(2002.47, 0), (2002.77, 0), (2002.78, 0.05), (2002.8, 0.07), (2002.83, 0.04), (2002.86, 0.1), (2002.9, 0.17),
        (2002.93, 0.22), (2002.95, 0.26), (2003.0, 0.26), (2003.05, 0.25), (2003.08, 0.27), (2003.12, 0.27),
        (2003.16, 0.30), (2003.2, 0.33), (2003.24, 0.38), (2003.26, 0.45), (2003.27, 0.55), (2003.28, 0.42),
        (2003.3, 0.40), (2003.34, 0.2), (2003.38, 0.02), (2003.4, 0),
        (2003.78, 0), (2003.8, 0.1), (2003.83, 0.2), (2003.86, 0.3), (2003.89, 0.42), (2003.92, 0.46), (2003.94, 0.45),
        (2004.0, 0.44), (2004.05, 0.42), (2004.1, 0.43), (2004.15, 0.41), (2004.2, 0.42), (2004.25, 0.44),
        (2004.28, 0.52), (2004.29, 0.58), (2004.3, 0.45), (2004.33, 0.33), (2004.36, 0.2), (2004.38, 0.05), (2004.39, 0),
        (2004.75, 0), (2004.77, 0.08), (2004.8, 0.22), (2004.84, 0.36), (2004.88, 0.5), (2004.9, 0.55), (2004.93, 0.58),
        (2004.96, 0.6), (2005.0, 0.6), (2005.0, 0), (2005.0, 0.66), (2005.05, 0.68), (2005.1, 0.67), (2005.17, 0.63),
        (2005.17, 0), (2005.17, 0.45), (2005.22, 0.42), (2005.22, 0), (2005.22, 0.3), (2005.28, 0.29), (2005.3, 0.12),
        (2005.33, 0.02), (2005.35, 0),
        (2005.7, 0), (2005.72, 0.02), (2005.75, 0.08), (2005.78, 0.12), (2005.8, 0.22), (2005.82, 0.2), (2005.84, 0.3),
        (2005.86, 0.45), (2005.865, 0), (2005.87, 0.5), (2005.875, 0), (2005.88, 0.55), (2005.885, 0), (2005.89, 0.58),
        (2005.895, 0), (2005.9, 0.62), (2005.905, 0), (2005.91, 0.64), (2005.92, 0.66), (2005.94, 0.63),
        (2005.96, 0.68), (2005.96, 0), (2005.96, 0.69), (2006.0, 0.7), (2006.05, 0.69), (2006.1, 0.71),
        (2006.15, 0.71), (2006.15, 0),
        (2006.8, 0), (2006.82, 0.02), (2006.84, 0.24), (2006.855, 0.2), (2006.865, 0.81), (2006.87, 0), (2006.875, 0.82),
        (2006.885, 0), (2006.89, 0.8), (2006.9, 0.79), (2006.905, 0), (2006.91, 0.78), (2006.93, 0.77), (2006.935, 0),
        (2006.94, 0.76), (2006.97, 0.75), (2007.0, 0.74), (2007.05, 0.73), (2007.08, 0.72), (2007.1, 0.69),
        (2007.1, 0), (2007.1, 0.7), (2007.13, 0.72), (2007.16, 0.67), (2007.16, 0), (2007.16, 0.68), (2007.19, 0.7),
        (2007.21, 0.66), (2007.21, 0), (2007.21, 0.6), (2007.24, 0.55), (2007.25, 0), (2007.25, 0.5), (2007.27, 0.47),
        (2007.28, 0), (2007.28, 0.43), (2007.3, 0.38), (2007.31, 0), (2007.31, 0.33), (2007.33, 0.25), (2007.35, 0.1),
        (2007.37, 0),
        (2007.97, 0), (2007.98, 0.26), (2008.0, 0.28), (2008.05, 0.27), (2008.1, 0.27), (2008.15, 0.26), (2008.2, 0.26),
        (2008.25, 0.25), (2008.32, 0.24), (2008.32, 0),
        (2008.82, 0), (2008.82, 0.14), (2008.84, 0.13), (2008.86, 0.1), (2008.9, 0.09), (2008.95, 0.08),
        (2009.0, 0.075), (2009.1, 0.075), (2009.2, 0.07), (2009.3, 0.07), (2009.3, 0),
        (2009.75, 0), (2009.78, 0.02), (2009.8, 0.05), (2009.85, 0.05), (2009.9, 0.06), (2009.92, 0.1),
        (2009.93, 0.06), (2009.97, 0.06), (2010.0, 0.05)]

snow_fill = [(2002.95, 2003.3), (2003.94, 2004.38), (2004.9, 2005.28), (2005.87, 2006.15),
             (2006.865, 2007.33), (2007.98, 2008.32), (2008.95, 2009.3)]

ice = [[(2002.93, 0), (2002.95, -0.15), (2002.98, -0.33), (2003.03, -0.57), (2003.08, -0.81), (2003.15, -1.0),
        (2003.22, -1.2), (2003.28, -1.34), (2003.33, -1.42), (2003.35, -1.43), (2003.37, -1.35), (2003.39, -0.96),
        (2003.41, -0.45), (2003.43, 0)],
       [(2003.93, 0), (2003.95, -0.25), (2003.98, -0.48), (2004.05, -0.81), (2004.15, -1.1), (2004.25, -1.34),
        (2004.32, -1.48), (2004.39, -1.57), (2004.42, -1.2), (2004.44, -0.48), (2004.47, 0)],
       [(2004.9, 0), (2004.92, -0.25), (2004.95, -0.48), (2005.02, -0.81), (2005.08, -1.0), (2005.18, -1.24),
        (2005.28, -1.39), (2005.35, -1.43), (2005.38, -0.96), (2005.41, -0.38), (2005.43, 0)],
       [(2005.87, 0), (2005.9, -0.3), (2005.95, -0.57), (2006.0, -0.8), (2006.05, -1.0), (2006.15, -1.22),
        (2006.25, -1.39), (2006.33, -1.55), (2006.37, -0.96), (2006.4, -0.24), (2006.42, 0)],
       [(2006.92, 0), (2006.935, -0.3), (2006.95, -0.48), (2007.02, -0.77), (2007.12, -1.05), (2007.22, -1.29),
        (2007.28, -1.43), (2007.34, -1.53), (2007.37, -1.39), (2007.39, -0.48), (2007.4, 0)],
       [(2007.92, 0), (2007.935, -0.3), (2007.95, -0.48), (2008.02, -0.81), (2008.12, -1.15), (2008.22, -1.39),
        (2008.32, -1.63), (2008.35, -1.2), (2008.38, -0.48), (2008.4, 0)],
       [(2008.92, 0), (2008.935, -0.25), (2008.95, -0.43), (2009.02, -0.91), (2009.12, -1.29), (2009.22, -1.58),
        (2009.3, -1.73), (2009.33, -1.39), (2009.37, -1.34), (2009.38, -0.81), (2009.42, 0)],
       [(2009.9, 0), (2009.93, -0.33), (2009.97, -0.62), (2010.0, -0.69)]]

# temperature of lake water [K]
water = [(2002.47, 282), (2002.55, 284), (2002.65, 284), (2002.72, 282), (2002.8, 276), (2002.88, 272), (2002.95, 270),
         (2003.2, 269), (2003.4, 268), (2003.46, 265), (2003.52, 273), (2003.6, 282), (2003.68, 284), (2003.75, 283),
         (2003.82, 277), (2003.9, 271), (2004.0, 270), (2004.3, 269), (2004.44, 268), (2004.5, 265), (2004.56, 274),
         (2004.63, 282), (2004.7, 284), (2004.77, 282), (2004.83, 276), (2004.9, 271), (2005.0, 270), (2005.3, 269),
         (2005.4, 267), (2005.46, 265), (2005.52, 273), (2005.6, 282), (2005.67, 284), (2005.74, 282), (2005.8, 277),
         (2005.87, 271), (2006.0, 270), (2006.3, 269), (2006.39, 267), (2006.45, 265), (2006.5, 274), (2006.58, 283),
         (2006.66, 285), (2006.74, 283), (2006.82, 277), (2006.9, 271), (2007.0, 270), (2007.3, 269), (2007.37, 267),
         (2007.43, 265), (2007.49, 274), (2007.57, 283), (2007.65, 285), (2007.73, 283), (2007.8, 277), (2007.88, 271),
         (2008.0, 270), (2008.3, 269), (2008.37, 267), (2008.43, 265), (2008.5, 274), (2008.58, 283), (2008.66, 285),
         (2008.73, 283), (2008.8, 277), (2008.88, 271), (2009.0, 270), (2009.3, 269), (2009.39, 267), (2009.45, 265),
         (2009.51, 274), (2009.58, 283), (2009.66, 285), (2009.73, 283), (2009.8, 277), (2009.87, 271), (2010.0, 270)]

# temperature of ice and snow cover [K]
cover = [(2002.47, 268), (2002.8, 268), (2002.93, 258), (2003.02, 261), (2003.12, 264), (2003.25, 266), (2003.35, 267),
         (2003.45, 268), (2003.85, 268), (2003.93, 259), (2004.02, 262), (2004.12, 264), (2004.25, 266), (2004.35, 267),
         (2004.45, 268), (2004.82, 268), (2004.9, 258), (2004.99, 261), (2005.1, 264), (2005.22, 266), (2005.32, 267),
         (2005.42, 268), (2005.8, 268), (2005.87, 260), (2005.97, 262), (2006.08, 264), (2006.2, 266), (2006.32, 267),
         (2006.42, 268), (2006.82, 268), (2006.9, 259), (2006.99, 261), (2007.1, 264), (2007.22, 266), (2007.32, 267),
         (2007.4, 268), (2007.85, 268), (2007.93, 258), (2008.02, 261), (2008.12, 264), (2008.25, 266), (2008.33, 267),
         (2008.4, 268), (2008.85, 268), (2008.93, 256), (2009.03, 260), (2009.13, 264), (2009.25, 266), (2009.35, 267),
         (2009.42, 268), (2009.85, 268), (2009.92, 259), (2010.0, 262)]

# air temperature [K], every half month from mid June 2002
air_start = 2002.47
air_T = [287, 291, 284, 292, 286, 288, 280, 274, 268, 264, 257, 262, 250, 255, 243, 250, 240, 236, 248, 255, 263, 272, 279, 287,
         291, 288, 295, 287, 290, 283, 279, 275, 268, 260, 263, 253, 248, 243, 238, 245, 236, 248, 254, 260, 266, 273, 279, 286,
         294, 290, 295, 287, 285, 281, 277, 274, 270, 264, 258, 254, 248, 244, 239, 242, 235, 243, 249, 257, 263, 270, 278, 286,
         293, 288, 291, 286, 289, 283, 279, 275, 270, 266, 262, 258, 254, 248, 240, 231, 250, 243, 246, 256, 262, 270, 280, 284,
         290, 294, 288, 293, 287, 285, 282, 277, 274, 270, 262, 254, 259, 252, 246, 250, 239, 245, 241, 252, 262, 272, 278, 285,
         292, 287, 294, 288, 286, 282, 279, 276, 272, 264, 259, 262, 252, 254, 241, 245, 231, 238, 252, 258, 265, 274, 282, 287,
         290, 291, 288, 293, 286, 285, 280, 277, 272, 268, 262, 252, 246, 233, 241, 246, 240, 252, 248, 262, 268, 276, 284, 289,
         291, 288, 290, 286, 288, 282, 279, 272, 270, 262, 257, 250, 244, 240]

cb_ticks = [240, 250, 260, 270, 280, 290]


def xy(pairs):
    a = np.array(pairs, dtype=float)
    return a[:, 0], a[:, 1]


GREY = '#444444'
X0, X1 = 2002.47, 2010.0
LEFT, WIDTH, HEIGHT = 72 / 869, 752 / 869, 217 / 1350

cmap = LinearSegmentedColormap.from_list('tk', ['#9999ff', '#cc0000'])
norm = Normalize(240, 290)

fig = plt.figure(figsize=(8.69, 13.5), dpi=100)


def frame(ax, title, xlabel):
    for s in ax.spines.values():
        s.set_color('#555555')
        s.set_linewidth(0.9)
    ax.set_xlim(X0, X1)
    ax.xaxis.set_major_locator(MultipleLocator(1))
    ax.xaxis.set_minor_locator(MultipleLocator(1 / 12))
    ax.xaxis.set_major_formatter(FormatStrFormatter('%d'))
    ax.tick_params(which='both', direction='in', top=True, colors='#555555', labelcolor=GREY,
                   labelsize=10, width=0.8)
    ax.tick_params(axis='x', which='major', length=5, pad=6)
    ax.tick_params(axis='x', which='minor', length=2.5)
    ax.tick_params(axis='y', which='major', length=10)
    ax.tick_params(axis='y', which='minor', length=5)
    ax.set_title(title, fontsize=12, color=GREY, pad=7)
    ax.set_xlabel(xlabel, fontsize=10.5, color=GREY, labelpad=4)


# --------------------------- brightness temps ----------------------------- #
panels = [('a. Great Bear Lake: 6 GHz', 'year', 1 - 251 / 1350, a_v, a_h, a_vm, a_hm),
          ('b. Great Bear Lake: 10 GHz', 'time [days]', 1 - 551 / 1350, b_v, b_h, b_vm, b_hm),
          ('c. Great Bear Lake: 18 GHz', 'time [days]', 1 - 851 / 1350, c_v, c_h, c_vm, c_hm)]

for title, xlabel, bottom, v, h, vm, hm in panels:
    ax = fig.add_axes([LEFT, bottom, WIDTH, HEIGHT])
    t, y = xy(vm)
    ax.plot(t, y, color='red', lw=0.8, ls=(0, (1.5, 2.5)))
    t, y = xy(hm)
    ax.plot(t, y, color='blue', lw=0.8, ls=(0, (1.5, 2.5)))
    t, y = xy(v)
    ax.plot(t, y, color='red', lw=0.7)
    t, y = xy(h)
    ax.plot(t, y, color='blue', lw=0.7)
    ax.set_ylim(0, 300)
    ax.yaxis.set_major_locator(MultipleLocator(50))
    ax.yaxis.set_minor_locator(MultipleLocator(10))
    frame(ax, title, xlabel)
    ax.tick_params(which='both', right=True)
    ax.set_ylabel('Tb [K]', fontsize=10.5, color=GREY, labelpad=8)

# ------------------------------ ice panel --------------------------------- #
axd = fig.add_axes([LEFT, 1 - 1151 / 1350, WIDTH, HEIGHT])
axd.axhspan(0, 1, color='#e7e7f9', zorder=0)

wt, wT = xy(water)
axd.pcolormesh(wt, [-2, 0], np.vstack([wT, wT]), cmap=cmap, norm=norm, shading='gouraud', zorder=1)

paths = []
for season in ice:
    t, d = xy(season)
    verts = np.column_stack([np.r_[t, t[0]], np.r_[d, d[0]]])
    paths.append(Path(verts, closed=True))
st, sd = xy(snow)
snow_paths = []
for a, b in snow_fill:
    m = (st >= a) & (st <= b)
    vx = np.r_[a, st[m], b, a]
    vy = np.r_[0, sd[m], 0, 0]
    p = Path(np.column_stack([vx, vy]), closed=True)
    paths.append(p)
    snow_paths.append(p)

ct, cT = xy(cover)
mesh = axd.pcolormesh(ct, [-2, 1], np.vstack([cT, cT]), cmap=cmap, norm=norm, shading='gouraud', zorder=2)
mesh.set_clip_path(Path.make_compound_path(*paths), axd.transData)

for p in snow_paths:
    axd.add_patch(PathPatch(p, fill=False, ec='black', lw=1.0, zorder=3))

axd.plot(st, sd, color='black', lw=1.5, zorder=4)
for season in ice:
    t, d = xy(season)
    axd.plot(t, d, color='black', lw=1.5, zorder=4)
axd.axhline(0, color='black', lw=1.5, zorder=4)

axd.set_ylim(-2, 1)
axd.yaxis.set_major_locator(MultipleLocator(1))
axd.yaxis.set_minor_locator(MultipleLocator(0.1))
frame(axd, 'd. Great Bear Lake', 'year')
axd.set_ylabel('depth [m]', fontsize=10.5, color=GREY, labelpad=14)

axt = axd.twinx()
air_t = air_start + np.arange(len(air_T)) / 24
axt.plot(air_t, air_T, color='#ffff8c', lw=1.4, alpha=0.9, zorder=5)
axt.set_xlim(X0, X1)
axt.set_ylim(220, 300)
axt.yaxis.set_major_locator(MultipleLocator(20))
axt.yaxis.set_minor_locator(MultipleLocator(5))
axt.tick_params(which='both', direction='in', colors='#555555', labelcolor=GREY, labelsize=10, width=0.8, pad=3)
axt.tick_params(which='major', length=10)
axt.tick_params(which='minor', length=5)
for s in axt.spines.values():
    s.set_color('#555555')
    s.set_linewidth(0.9)
axt.set_ylabel('Air temperature [K]', fontsize=9.5, color=GREY, labelpad=2)

# ------------------------------ colour bar -------------------------------- #
cax = fig.add_axes([172 / 869, 1 - 1290 / 1350, 550 / 869, 35 / 1350])
cb = fig.colorbar(cm.ScalarMappable(norm=norm, cmap=cmap), cax=cax, orientation='horizontal')
cb.set_ticks(cb_ticks)
cb.ax.tick_params(labelsize=14, colors='#777777', labelcolor='#555555', direction='in', length=4, pad=8)
cb.set_label('temperature [K]', fontsize=15, color='#555555', labelpad=4)
cb.outline.set_edgecolor('#888888')

fig.savefig('out.png', dpi=100)
